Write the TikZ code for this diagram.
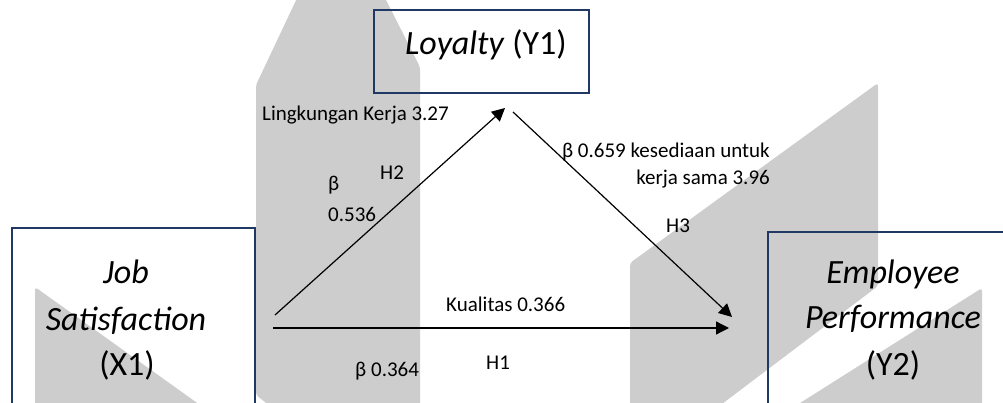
\documentclass[tikz,border=0pt]{standalone}
\usepackage{fontspec}
\setmainfont{Carlito}
\usetikzlibrary{arrows.meta}
\definecolor{navy}{HTML}{203864}
\definecolor{wm}{RGB}{205,205,205}
\begin{document}
\begin{tikzpicture}[x=1pt,y=-1pt,
  framebox/.style={draw=navy,line width=2pt,inner sep=0pt},
  boxtxt/.style={inner sep=0pt,font=\fontsize{34}{40}\selectfont},
  lbl/.style={inner sep=0pt,font=\fontsize{21}{25}\selectfont},
  conn/.style={line width=1.2pt,-{Triangle[length=13pt,width=13pt]}},
  wmark/.style={fill=wm,draw=none,rounded corners=3pt}]
\useasboundingbox (0,0) rectangle (1003,403);
\clip (0,0) rectangle (1003,403);
% watermark
\fill[wmark] (299,-6) -- (383,-6) -- (420,67) -- (420,410) -- (275,410) -- (256,395) -- (256,85) -- cycle;
\fill[wmark] (630,263) -- (878,83) -- (878,286) -- (714,410) -- (630,410) -- cycle;
\fill[wmark] (982,288) -- (982,410) -- (789,410) -- cycle;
\fill[wmark] (35,287) -- (207,410) -- (35,410) -- cycle;
% boxes
\node[framebox,minimum width=215pt,minimum height=83pt] (loy) at (481.5,51.5) {};
\node[framebox,minimum width=243pt,minimum height=202pt] (x1) at (133.5,329) {};
\node[framebox,minimum width=250pt,minimum height=198pt] (y2) at (893,331) {};
\node[boxtxt,anchor=base west] (loyt) at (405,55) {\textit{Loyalty} (Y1)};
\node[boxtxt,anchor=base] (x1a) at (126,283) {\textit{Job}};
\node[boxtxt,anchor=base] (x1b) at (126,330) {\textit{Satisfaction}};
\node[boxtxt,anchor=base] (x1c) at (127,375) {(X1)};
\node[boxtxt,anchor=base] (y2a) at (893,283) {\textit{Employee}};
\node[boxtxt,anchor=base] (y2b) at (893,328) {\textit{Performance}};
\node[boxtxt,anchor=base] (y2c) at (893,375) {(Y2)};
% connectors
\coordinate (h2s) at (275,315);
\coordinate (h2e) at (505,108);
\coordinate (h3s) at (513,112);
\coordinate (h3e) at (732,317);
\coordinate (h1s) at (273,328);
\coordinate (h1e) at (729,328);
\draw[conn] (h2s) -- (h2e);
\draw[conn] (h3s) -- (h3e);
\draw[conn] (h1s) -- (h1e);
% labels
\node[lbl,anchor=base west] (l1) at (262,121) {Lingkungan Kerja 3.27};
\node[lbl,anchor=base west] (l2) at (328,191) {β};
\node[lbl,anchor=base west] (l3) at (328,222) {0.536};
\node[lbl,anchor=base west] (l4) at (380,180) {H2};
\node[lbl,anchor=base east] (l5) at (770,158) {β 0.659 kesediaan untuk};
\node[lbl,anchor=base east] (l6) at (770,185) {kerja sama 3.96};
\node[lbl,anchor=base west] (l7) at (666,233) {H3};
\node[lbl,anchor=base west] (l8) at (446,311) {Kualitas 0.366};
\node[lbl,anchor=base west] (l9) at (355,376) {β 0.364};
\node[lbl,anchor=base west] (l10) at (486,369) {H1};
\end{tikzpicture}
\end{document}
